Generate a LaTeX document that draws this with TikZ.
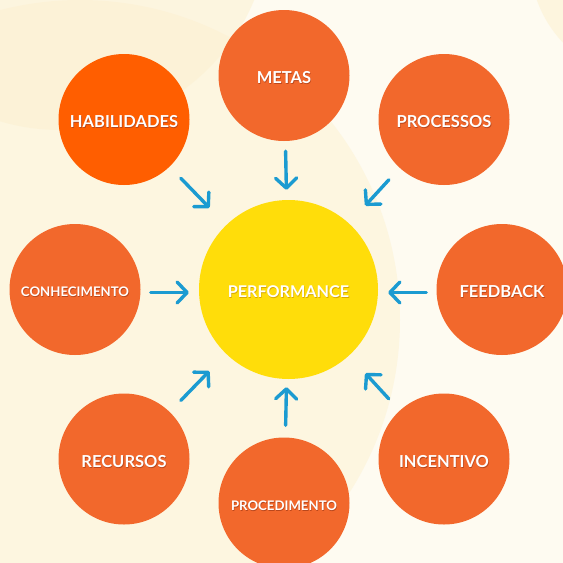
\documentclass[tikz,border=0pt]{standalone}
\usepackage{fontspec}
\setmainfont{Lato}
\usepackage{tikz}
\usetikzlibrary{positioning,arrows.meta}
\definecolor{PageBase}{HTML}{FEFBF1}
\definecolor{PageWarm}{HTML}{FDF4DA}
\definecolor{PageWarmer}{HTML}{FCF0CF}
\definecolor{OrangeFill}{HTML}{F2682C}
\definecolor{OrangeHot}{HTML}{FF5E00}
\definecolor{SunFill}{HTML}{FFDD0A}
\definecolor{ArrowBlue}{HTML}{1B9BD1}
\definecolor{ShadowBrown}{HTML}{B9471C}
\definecolor{ShadowGold}{HTML}{D8A800}
\newcommand{\glowtxt}[2]{\raisebox{\dimexpr-0.5\fontcharht\font`H-2.5pt\relax}[0pt][0pt]{\makebox[0pt][l]{\textcolor{#1}{\raisebox{-1pt}{\hspace{0.6pt}#2}}}#2}}
\tikzset{
  % outer factor circle
  factor/.style={
    circle,
    fill=OrangeFill,
    minimum size=131pt,
    inner sep=0pt,
    text=white,
    font=\fontsize{16.5}{17}\selectfont\bfseries
  },
  % smaller label for the long words
  sfactor/.style={factor, font=\fontsize{13.2}{14}\selectfont\bfseries},
  % center circle
  core/.style={
    circle,
    fill=SunFill,
    minimum size=179pt,
    inner sep=0pt,
    text=white,
    font=\fontsize{16.2}{17}\selectfont\bfseries
  },
  % arrow into the center
  feed/.style={
    draw=ArrowBlue,
    line width=3.4pt,
    line cap=round,
    -{Straight Barb[length=10pt,width=21pt,round]}
  }
}
\begin{document}
\begin{tikzpicture}[x=1pt,y=-1pt]
  \useasboundingbox (0,0) rectangle (563,563);
  % background
  \fill[PageBase] (0,0) rectangle (563,563);
  \begin{scope}
    \clip (0,0) rectangle (563,563);
    \fill[PageWarm, opacity=0.7] (80,320) circle (320);
    \fill[PageWarmer, opacity=0.5] (60,-80) circle (210);
    \fill[PageWarm, opacity=0.8] (650,-40) circle (120);
  \end{scope}

  \node[core] (perf) at (288.5,289.5) {\glowtxt{ShadowGold}{PERFORMANCE}};

  \node[factor] (metas)  at (284,75.5)  {\glowtxt{ShadowBrown}{METAS}};
  \node[factor, fill=OrangeHot] (habil) at (124,119.5) {\glowtxt{ShadowBrown}{HABILIDADES}};
  \node[factor] (proc)   at (444,119.5) {\glowtxt{ShadowBrown}{PROCESSOS}};
  \node[sfactor] (conh)  at (75,289.5)  {\glowtxt{ShadowBrown}{CONHECIMENTO}};
  \node[factor] (feed)   at (502,289.5) {\glowtxt{ShadowBrown}{FEEDBACK}};
  \node[factor] (recur)  at (124,459)   {\glowtxt{ShadowBrown}{RECURSOS}};
  \node[sfactor] (pced)  at (284,503)   {\glowtxt{ShadowBrown}{PROCEDIMENTO}};
  \node[factor] (incen)  at (444,459)   {\glowtxt{ShadowBrown}{INCENTIVO}};

  % arrows
  \draw[feed, shorten <=10pt, shorten >=10pt] (metas) -- (perf);
  \draw[feed, shorten <=16pt, shorten >=24pt] (habil) -- (perf);
  \draw[feed, shorten <=16pt, shorten >=24pt] (proc) -- (perf);
  \draw[feed, shorten <=10pt, shorten >=10pt] ([yshift=-3pt]conh.east) -- ([yshift=-3pt]perf.west);
  \draw[feed, shorten <=10pt, shorten >=10pt] ([yshift=-3pt]feed.west) -- ([yshift=-3pt]perf.east);
  \draw[feed, shorten <=16pt, shorten >=24pt] (recur) -- (perf);
  \draw[feed, shorten <=12pt, shorten >=8pt] (pced) -- (perf);
  \draw[feed, shorten <=16pt, shorten >=24pt] (incen) -- (perf);
\end{tikzpicture}
\end{document}
